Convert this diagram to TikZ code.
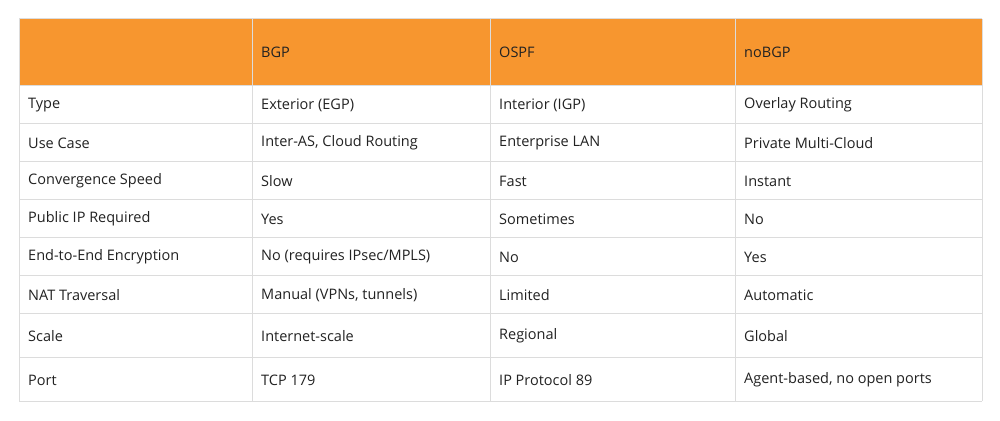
\documentclass[tikz,border=0pt]{standalone}
\usepackage{fontspec}
\setmainfont{Open Sans}
\definecolor{hdr}{HTML}{F7962F}
\definecolor{grid}{HTML}{DCDCDC}
\definecolor{txt}{HTML}{222222}
\begin{document}
\begin{tikzpicture}[x=1pt,y=-1pt,
  cell/.style={anchor=west,inner sep=0pt,text=txt,font=\fontsize{14.5}{17}\selectfont}]
\useasboundingbox[fill=white] (0,0) rectangle (1000,420);
\fill[hdr] (19,19) rectangle (982,85);
\def\cols{19,252.5,490,735,982}
\foreach \y in {19,85,123.5,161.5,199.5,237.5,275.5,313,357,401}
  \draw[grid,line width=1pt] (19,\y) -- (982,\y);
\foreach \x in {19,252.5,490,735,982}
  \draw[grid,line width=1pt] (\x,19) -- (\x,401);
\node[cell] (h1) at (261,52) {BGP};
\node[cell] (h2) at (499,52) {OSPF};
\node[cell] (h3) at (744,52) {noBGP};
\foreach \y/\a/\b/\c/\d [count=\i] in {
 105/Type/Exterior (EGP)/Interior (IGP)/Overlay Routing,
 143/Use Case/{Inter-AS, Cloud Routing}/Enterprise LAN/Private Multi-Cloud,
 181/Convergence Speed/Slow/Fast/Instant,
 219/Public IP Required/Yes/Sometimes/No,
 257/End-to-End Encryption/No (requires IPsec\slash MPLS)/No/Yes,
 295/NAT Traversal/{Manual (VPNs, tunnels)}/Limited/Automatic,
 336/Scale/Internet-scale/Regional/Global,
 380/Port/TCP 179/IP Protocol 89/{Agent-based, no open ports}} {
  \node[cell] (r\i a) at (28,\y) {\a};
  \node[cell] (r\i b) at (261,\y) {\b};
  \node[cell] (r\i c) at (499,\y) {\c};
  \node[cell] (r\i d) at (744,\y) {\d};
}
\end{tikzpicture}
\end{document}
